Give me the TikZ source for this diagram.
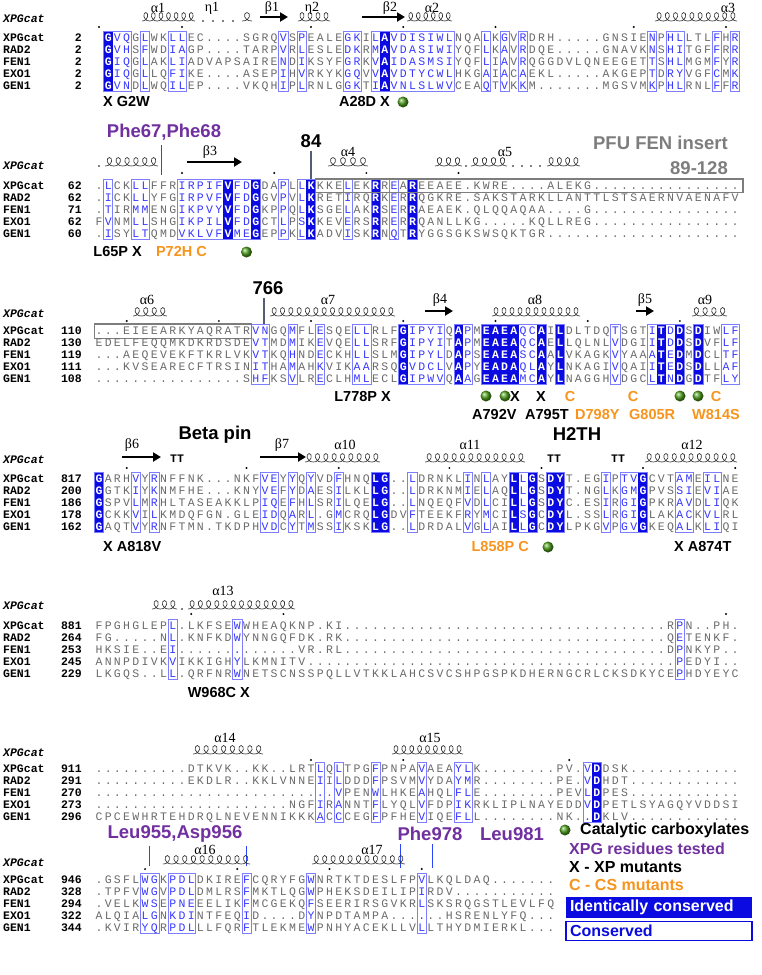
\documentclass[tikz,border=0pt]{standalone}
\usepackage{fontspec}
\setmainfont{Liberation Serif}
\setsansfont{Liberation Sans}
\setmonofont{Liberation Mono}
\usetikzlibrary{arrows.meta,positioning}
\definecolor{alnfill}{RGB}{10,10,225}
\definecolor{alnframe}{RGB}{125,125,255}
\definecolor{alntxt}{RGB}{55,55,255}
\definecolor{alngray}{RGB}{105,105,105}
\definecolor{xpgpurple}{RGB}{112,48,160}
\definecolor{csorange}{RGB}{247,148,29}
\definecolor{insgray}{RGB}{125,125,125}
\definecolor{tickslate}{RGB}{80,95,115}
\definecolor{tickblue}{RGB}{40,70,255}
\definecolor{ballgreen}{RGB}{80,160,30}

\newcount\alncol
\newcommand\alnpop{\ifx\alnmask\empty\def\alncur{-}\else\expandafter\alnpopx\alnmask\relax\fi}
\def\alnpopx#1#2\relax{\def\alncur{#1}\def\alnmask{#2}}
\newcommand\alnrow[3]{\def\alny{#1}\edef\alnmask{#2}\alncol=0 \alnstep#3\relax}
\newcommand\alnstep[1]{\ifx#1\relax\else\alnpop\alnput{#1}\advance\alncol by 1 \expandafter\alnstep\fi}
\newcommand\alnput[1]{%
  \if#1*\else
    \if\alncur f\node[res,text=white,font=\ttfamily\bfseries\fontsize{11.5}{12}\selectfont] at ({99+9.22*\the\alncol},\alny) {#1};%
    \else\if\alncur -\node[res,text=alngray] at ({99+9.22*\the\alncol},\alny) {#1};%
    \else\node[res,text=alntxt] at ({99+9.22*\the\alncol},\alny) {#1};%
    \fi\fi
  \fi}
\newcommand\alnframes[3]{\def\fytop{#2}\def\fybot{#3}\alncol=0 \def\alnprev{-}\expandafter\alnfstep#1\relax}
\newcommand\alnfstep[1]{%
  \ifx#1\relax\alnclose\else
    \if#1-\alnclose\else
      \if\alnprev-\edef\alnstart{\the\alncol}\fi
      \if#1f\fill[alnfill] ({99+9.22*\the\alncol-4.8},\fytop) rectangle ({99+9.22*\the\alncol+4.8},\fybot);\fi
    \fi
    \def\alnprev{#1}%
    \advance\alncol by 1
    \expandafter\alnfstep
  \fi}
\newcommand\alnclose{\if\alnprev-\else\draw[alnfr] ({99+9.22*\alnstart-4.61},\fytop) rectangle ({99+9.22*(\the\alncol-1)+4.61},\fybot);\fi}
\newcommand\alnhead[6]{%
  \foreach \nm/\nu [count=\i from 0] in {XPGcat/#2,RAD2/#3,FEN1/#4,EXO1/#5,GEN1/#6}
    {\node[nm] at (3,{#1+12*\i}) {\nm}; \node[num] at (82,{#1+12*\i}) {\nu};}}
\newcommand\sshelix[4]{%
  \pgfmathsetmacro\hlw{(#3-#2)/#4}
  \foreach \k in {1,...,#4}{%
    \pgfmathsetmacro\hxa{#2+(\k-1)*\hlw}
    \draw[hel] (\hxa,#1) .. controls +({0.9*\hlw},0) and +({0.4*\hlw},0) .. ({\hxa+0.5*\hlw},{#1-8.5})
      .. controls +({-0.4*\hlw},0) and +({-0.9*\hlw},0) .. ({\hxa+\hlw},#1);}}
\newcommand\tendots[2]{\foreach \c in {#2} \fill ({99+9.22*\c},#1) circle (1.1);}
\newcommand\cball[2]{\shade[ball color=ballgreen] (#1,#2) circle (5.5);}

\def\maskA{-fbb-b--bb ---------- b-b----bb- bfbbbbbbb- --b-b-b--- ---------- b-bb---b-b}
\def\maskB{-b--bb---b bbbbfbbf-- b-bf---b-- f-b-f}
\def\maskC{---------- -------bb- -b--b---bb ---fbbbb-f b-ffffbbf- f-----b--- bfbf-f--bb}
\def\maskD{f---b-b--- --------bb -b-b--b--- ff--b----- b-b--fbf-f f----b-bbf ---bb-bb--}
\def\maskE{--------b- -----b---- ---------- ---------- ---------- ---------- ---b}
\def\maskF{---------- ---------- ----b-b--- b----b---b b--------- ---bf}
\def\maskG{-----bb-bb b-----b--- ---b------ -----b}

\begin{document}
\begin{tikzpicture}[x=1pt,y=-1pt,
    res/.style={anchor=base,inner sep=0pt,font=\ttfamily\fontsize{11.5}{12}\selectfont},
    nm/.style={anchor=base west,inner sep=0pt,font=\ttfamily\bfseries\fontsize{11.5}{12}\selectfont},
    nmit/.style={nm,font=\ttfamily\bfseries\itshape\fontsize{11.5}{12}\selectfont},
    num/.style={anchor=base east,inner sep=0pt,font=\ttfamily\bfseries\fontsize{11.5}{12}\selectfont},
    tt/.style={anchor=base,inner sep=0pt,font=\ttfamily\bfseries\fontsize{11.5}{12}\selectfont},
    ss/.style={inner sep=0pt,font=\fontsize{14}{16}\selectfont},
    hel/.style={line width=0.65pt,black!80},
    sheet/.style={line width=2.6pt,-{Triangle[length=8pt,width=9pt]}},
    alnfr/.style={draw=alnframe,line width=0.8pt},
    insbox/.style={draw=insgray,line width=1.4pt},
    lab/.style={inner sep=0pt,font=\sffamily\bfseries\fontsize{14.5}{16}\selectfont},
    big/.style={inner sep=0pt,font=\sffamily\bfseries\fontsize{18.5}{20}\selectfont},
    leg/.style={inner sep=0pt,anchor=west,font=\sffamily\bfseries\fontsize{16}{18}\selectfont},
    legbox/.style={minimum height=21pt,text width=178pt,inner xsep=4pt,align=left,
      font=\sffamily\bfseries\fontsize{16}{18}\selectfont}]
  \useasboundingbox (0,0) rectangle (762,975);

  % block 1
  \node[ss] (a1) at (158,8) {α1};
  \node[ss] (e1) at (212,8) {η1};
  \node[ss] (b1) at (272,8) {β1};
  \node[ss] (e2) at (312,8) {η2};
  \node[ss] (b2) at (390,8) {β2};
  \node[ss] (a2) at (432,8) {α2};
  \node[ss] (a3) at (728,8) {α3};
  \sshelix{21}{142}{195}{7}
  \foreach \x in {203,213,223,233} \fill (\x,21) circle (0.8);
  \sshelix{21}{242}{252}{1}
  \draw[sheet] (260,17) -- (288,17);
  \sshelix{21}{298}{330}{4}
  \draw[sheet] (362,17) -- (405,17);
  \sshelix{21}{407}{452}{6}
  \sshelix{21}{655}{737}{10}
  \node[nmit] (it1) at (3,22) {XPGcat};
  \tendots{27}{0,9,23,33,43,58,68}
  \alnframes{\maskA}{31}{91.5}
  \alnhead{41}{2}{2}{2}{2}{2}
  \alnrow{41}{\maskA}{*GVQGLWKLL EC....SGRQ VSPEALEGKI LAVDISIWLN QALKGVRDRH .....GNSIE NPHLLTLFHR}
  \alnrow{53}{\maskA}{*GVHSFWDIA GP....TARP VRLESLEDKR MAVDASIWIY QFLKAVRDQE .....GNAVK NSHITGFFRR}
  \alnrow{65}{\maskA}{*GIQGLAKLI ADVAPSAIRE NDIKSYFGRK VAIDASMSIY QFLIAVRQGG DVLQNEEGET TSHLMGMFYR}
  \alnrow{77}{\maskA}{*GIQGLLQFI KE....ASEP IHVRKYKGQV VAVDTYCWLH KGAIACAEKL .....AKGEP TDRYVGFCMK}
  \alnrow{89}{\maskA}{*GVNDLWQIL EP....VKQH IPLRNLGGKT IAVNLSLWVC EAQTVKKM.. .....MGSVM KPHLRNLFFR}
  \node[lab,anchor=west] (g2w) at (103,102) {X G2W};
  \node[lab,anchor=east] (a28d) at (390,102) {A28D X};
  \cball{403}{102}

  % block 2
  \node[big,text=xpgpurple] (phe) at (164,132) {Phe67,Phe68};
  \coordinate (phetick) at (161,175);
  \draw[tickblue,line width=1pt] (phetick |- phe.south) ++(0,5) -- (phetick);
  \node[big] (n84) at (311,141) {84};
  \coordinate (k84) at (311,179);
  \draw[tickslate,line width=1.2pt] (n84.south) ++(0,3) -- (k84);
  \node[big,text=insgray,anchor=east] (pfu) at (728,143) {PFU FEN insert};
  \node[big,text=insgray,anchor=east] (ins) at (728,168) {89-128};
  \node[ss] (b3) at (210,152) {β3};
  \node[ss] (a4) at (348,152) {α4};
  \node[ss] (a5) at (505,152) {α5};
  \fill (99,166) circle (0.8);
  \sshelix{166}{105}{158}{6}
  \draw[sheet] (187,162) -- (242,162);
  \sshelix{166}{328}{368}{4}
  \sshelix{166}{435}{462}{3}
  \fill (466,166) circle (0.8);
  \sshelix{166}{471}{507}{4}
  \foreach \x in {513,522,531,540} \fill (\x,166) circle (0.8);
  \sshelix{166}{547}{580}{4}
  \node[nmit] (it2) at (3,169) {XPGcat};
  \tendots{173}{9,19,29,39}
  \alnframes{\maskB}{179}{239.5}
  \draw[insbox] (315.7,179) rectangle (742.8,192.5);
  \alnhead{189}{62}{62}{71}{62}{60}
  \alnrow{189}{\maskB}{.LCKLLFFRI RPIFVFDGDA PLLKKKELEK RREAREEAEE .KWRE....A LEKG...... ..........}
  \alnrow{201}{\maskB}{.ICKLLYFGI RPVFVFDGGV PVLKRETIRQ RKERRQGKRE .SAKSTARKL LANTTLSTSA ERNVAENAFV}
  \alnrow{213}{\maskB}{.TIRMMENGI KPVYVFDGKP PQLKSGELAK RSERRAEAEK .QLQQAQAA. ...G...... ..........}
  \alnrow{225}{\maskB}{FVNMLLSHGI KPILVFDGCT LPSKKEVERS RRERRQANLL KG.....KQL LREG...... ..........}
  \alnrow{237}{\maskB}{.ISYLTQMDV KLVFVMEGEP PKLKADVISK RNQTRYGGSG KSWSQKTGR. .......... ..........}
  \node[lab,anchor=east] (l65p) at (142,252) {L65P X};
  \node[lab,anchor=east,text=csorange] (p72h) at (207,252) {P72H C};
  \cball{246.5}{252}

  % block 3
  \node[big] (n766) at (268,288) {766};
  \coordinate (n766tick) at (264,324);
  \draw[tickslate,line width=1.2pt] (n766tick |- n766.south) ++(0,3) -- (n766tick);
  \node[ss] (a6) at (147,300) {α6};
  \node[ss] (a7) at (328,300) {α7};
  \node[ss] (b4) at (440,300) {β4};
  \node[ss] (a8) at (535,300) {α8};
  \node[ss] (b5) at (645,300) {β5};
  \node[ss] (a9) at (705,300) {α9};
  \sshelix{316}{133}{167}{4}
  \sshelix{316}{270}{395}{15}
  \draw[sheet] (425,311) -- (453,311);
  \sshelix{316}{492}{580}{11}
  \draw[sheet] (636,311) -- (654,311);
  \sshelix{316}{692}{727}{4}
  \node[nmit] (it3) at (3,317) {XPGcat};
  \tendots{321}{3,13,23,33,43,53,63}
  \alnframes{\maskC}{324}{384.5}
  \draw[insbox] (94.4,324) rectangle (251.5,338.5);
  \alnhead{334}{110}{130}{119}{111}{108}
  \alnrow{334}{\maskC}{...EIEEARK YAQRATRVNG QMFLESQELL RLFGIPYIQA PMEAEAQCAI LDLTDQTSGT ITDDSDIWLF}
  \alnrow{346}{\maskC}{EDELFEQQMK DKRDSDEVTM DMIKEVQELL SRFGIPYITA PMEAEAQCAE LLQLNLVDGI ITDDSDVFLF}
  \alnrow{358}{\maskC}{...AEQEVEK FTKRLVKVTK QHNDECKHLL SLMGIPYLDA PSEAEASCAA LVKAGKVYAA ATEDMDCLTF}
  \alnrow{370}{\maskC}{...KVSEARE CFTRSINITH AMAHKVIKAA RSQGVDCLVA PYEADAQLAY LNKAGIVQAI ITEDSDLLAF}
  \alnrow{382}{\maskC}{.......... ......SHFK SVLRECLHML ECLGIPWVQA AGEAEAMCAY LNAGGHVDGC LTNDGDTFLY}
  \node[lab,anchor=east] (l778p) at (391,397) {L778P X};
  \cball{486}{396} \cball{505}{396}
  \node[lab] (x792) at (515,397) {X};
  \node[lab] (x795) at (541,397) {X};
  \node[lab,text=csorange] (c798) at (570,397) {C};
  \node[lab,text=csorange] (c805) at (633,397) {C};
  \cball{680}{396} \cball{698}{396}
  \node[lab,text=csorange] (c814) at (716,397) {C};
  \node[lab,anchor=west] (a792v) at (472,415) {A792V};
  \node[lab,anchor=west] (a795t) at (525,415) {A795T};
  \node[lab,anchor=west,text=csorange] (d798y) at (575,415) {D798Y};
  \node[lab,anchor=west,text=csorange] (g805r) at (629,415) {G805R};
  \node[lab,anchor=west,text=csorange] (w814s) at (692,415) {W814S};

  % block 4
  \node[big] (bpin) at (215,435) {Beta pin};
  \node[big] (h2th) at (577,434) {H2TH};
  \node[ss] (b6) at (132,445) {β6};
  \node[ss] (b7) at (282,445) {β7};
  \node[ss] (a10) at (345,445) {α10};
  \node[ss] (a11) at (470,445) {α11};
  \node[ss] (a12) at (692,445) {α12};
  \draw[sheet] (122,457) -- (161,457);
  \node[tt] (tt1) at (177,462) {TT};
  \draw[sheet] (260,457) -- (306,457);
  \sshelix{462}{305}{380}{9}
  \sshelix{462}{425}{525}{12}
  \node[tt] (tt2) at (554,462) {TT};
  \node[tt] (tt3) at (618,462) {TT};
  \sshelix{462}{645}{737}{11}
  \node[nmit] (it4) at (3,463) {XPGcat};
  \tendots{468}{3,16,26,38,48,59,69}
  \alnframes{\maskD}{472}{532.5}
  \alnhead{482}{817}{200}{186}{178}{162}
  \alnrow{482}{\maskD}{GARHVYRNFF NK...NKFVE YYQYVDFHNQ LG..LDRNKL INLAYLLGSD YT.EGIPTVG CVTAMEILNE}
  \alnrow{494}{\maskD}{GGTKIYKNMF HE...KNYVE FYDAESILKL LG..LDRKNM IELAQLLGSD YT.NGLKGMG PVSSIEVIAE}
  \alnrow{506}{\maskD}{GSPVLMRHLT ASEAKKLPIQ EFHLSRILQE LG..LNQEQF VDLCILLGSD YC.ESIRGIG PKRAVDLIQK}
  \alnrow{518}{\maskD}{GCKKVILKMD QFGN.GLEID QARL.GMCRQ LGDVFTEEKF RYMCILSGCD YL.SSLRGIG LAKACKVLRL}
  \alnrow{530}{\maskD}{GAQTVYRNFT MN.TKDPHVD CYTMSSIKSK LG..LDRDAL VGLAILLGCD YLPKGVPGVG KEQALKLIQI}
  \node[lab,anchor=west] (a818v) at (103,546) {X A818V};
  \node[lab,anchor=east,text=csorange] (l858p) at (529,546) {L858P C};
  \cball{548}{547}
  \node[lab,anchor=west] (a874t) at (674,546) {X A874T};

  % block 5
  \node[ss] (a13) at (223,591) {α13};
  \sshelix{609}{152}{177}{3}
  \fill (182,609) circle (0.8);
  \sshelix{609}{188}{295}{13}
  \node[nmit] (it5) at (3,609) {XPGcat};
  \tendots{614}{10,20,68}
  \alnframes{\maskE}{619}{679.5}
  \alnhead{629}{881}{264}{253}{245}{229}
  \alnrow{629}{\maskE}{FPGHGLEPL. LKFSEWWHEA QKNP.KI... .......... .......... .......... ..RPN..PH.}
  \alnrow{641}{\maskE}{FG.....NL. KNFKDWYNNG QFDK.RK... .......... .......... .......... ..QETENKF.}
  \alnrow{653}{\maskE}{HKSIE..EI. .......... ..VR.RL... .......... .......... .......... ..DPNKYP..}
  \alnrow{665}{\maskE}{ANNPDIVKVI KKIGHYLKMN ITV....... .......... .......... .......... ...PEDYI..}
  \alnrow{677}{\maskE}{LKGQS..LL. QRFNRWNETS CNSSPQLLVT KKLAHCSVCS HPGSPKDHER NGCRLCKSDK YCEPHDYEYC}
  \node[lab,anchor=east] (w968c) at (250,692) {W968C X};

  % block 6
  \node[ss] (a14) at (225,738) {α14};
  \node[ss] (a15) at (430,738) {α15};
  \sshelix{754}{193}{263}{8}
  \sshelix{754}{392}{463}{9}
  \node[nmit] (it6) at (3,756) {XPGcat};
  \tendots{760}{23,33,51}
  \alnframes{\maskF}{762}{822.5}
  \alnhead{772}{911}{291}{270}{273}{296}
  \alnrow{772}{\maskF}{.......... DTKVK..KK. .LRTLQLTPG FPNPAVAEAY LK........ PV.VDDSK.. ..........}
  \alnrow{784}{\maskF}{.......... EKDLR..KKL VNNEIILDDD FPSVMVYDAY MR........ PE.VDHDT.. ..........}
  \alnrow{796}{\maskF}{.......... .......... ......VPEN WLHKEAHQLF LE........ PEVLDPES.. ..........}
  \alnrow{808}{\maskF}{.......... .......... .NGFIRANNT FLYQLVFDPI KRKLIPLNAY EDDVDPETLS YAGQYVDDSI}
  \alnrow{820}{\maskF}{CPCEWHRTEH DRQLNEVENN IKKKACCCEG FPFHEVIQEF LL........ NK..DKLV.. ..........}

  % block 7
  \node[big,text=xpgpurple] (leu955) at (175,834) {Leu955,Asp956};
  \node[big,text=xpgpurple] (phe978) at (430,834) {Phe978};
  \node[big,text=xpgpurple] (leu981) at (512,834) {Leu981};
  \coordinate (t955) at (149,866);
  \coordinate (t956) at (246,866);
  \coordinate (t978) at (400,868);
  \coordinate (t981) at (432,868);
  \draw[tickblue,line width=1pt] (t955 |- leu955.south) ++(0,3) -- (t955);
  \draw[tickblue,line width=1pt] (t956 |- leu955.south) ++(0,3) -- (t956);
  \draw[tickblue,line width=1pt] (t978 |- phe978.south) ++(0,3) -- (t978);
  \draw[tickblue,line width=1pt] (t981 |- phe978.south) ++(0,3) -- (t981);
  \node[ss] (a16) at (205,850) {α16};
  \node[ss] (a17) at (372,850) {α17};
  \sshelix{864}{163}{250}{10}
  \sshelix{864}{312}{405}{11}
  \node[nmit] (it7) at (3,866) {XPGcat};
  \tendots{869}{5,15,25,35}
  \alnframes{\maskG}{873}{933.5}
  \alnhead{883}{946}{328}{294}{322}{344}
  \alnrow{883}{\maskG}{.GSFLWGKPD LDKIREFCQR YFGWNRTKTD ESLFPVLKQL DAQ.......}
  \alnrow{895}{\maskG}{.TPFVWGVPD LDMLRSFMKT LQGWPHEKSD EILIPIRDV. ..........}
  \alnrow{907}{\maskG}{.VELKWSEPN EEELIKFMCG EKQFSEERIR SGVKRLSKSR QGSTLEVLFQ}
  \alnrow{919}{\maskG}{ALQIALGNKD INTFEQID.. ..DYNPDTAM PA......HS RENLYFQ...}
  \alnrow{931}{\maskG}{.KVIRYQRPD LLLFQRFTLE KMEWPNHYAC EKLLVLLTHY DMIERKL...}

  % legend
  \cball{565}{830}
  \node[leg] (lcat) at (580,830) {Catalytic carboxylates};
  \node[leg,text=xpgpurple] (lxpg) at (569,849) {XPG residues tested};
  \node[leg] (lxp) at (569,867) {X - XP mutants};
  \node[leg,text=csorange] (lcs) at (569,885) {C - CS mutants};
  \node[legbox,fill=alnfill,text=white] (lid) at (659,907.5) {Identically conserved};
  \node[legbox,draw=alnfill,line width=1.6pt,text=alnfill,minimum height=19pt] (lcon) at (659,931) {Conserved};
\end{tikzpicture}
\end{document}
